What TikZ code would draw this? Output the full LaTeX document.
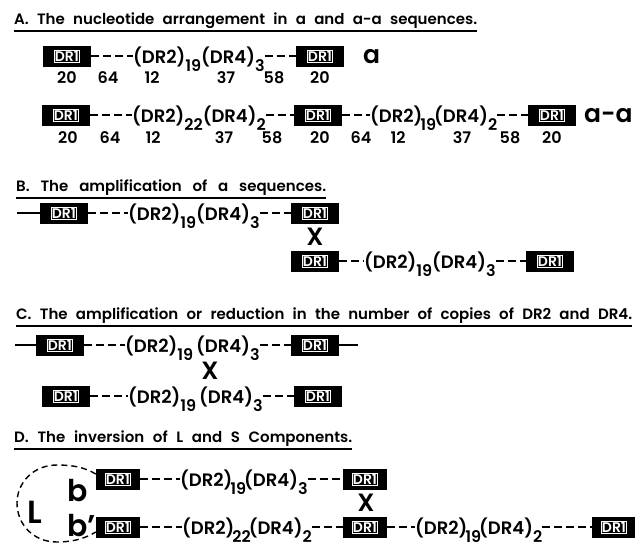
\documentclass[tikz,border=0pt]{standalone}
\usepackage{fontspec}
\setmainfont{Poppins}[UprightFont=* SemiBold]
\usepackage{tikz}
\usetikzlibrary{positioning}

\newcommand{\sbt}[1]{\raisebox{-8pt}{\fontsize{16}{16}\selectfont #1}}
\newcommand{\drone}{{\setlength{\fboxsep}{0.4pt}\setlength{\fboxrule}{0.7pt}\fbox{DR1}}}

\begin{document}
\begin{tikzpicture}[x=1pt, y=-1pt,
    drbox/.style={fill=black, text=white, minimum width=48pt, minimum height=21pt, inner sep=0pt, font=\fontsize{14}{14}\selectfont},
    seq/.style={anchor=base west, inner sep=0pt, font=\fontsize{18}{18}\selectfont},
    num/.style={anchor=base, inner sep=0pt, font=\fontsize{16}{16}\selectfont},
    heading/.style={anchor=base west, inner sep=0pt, font=\fontsize{15}{15}\selectfont},
    uline/.style={line width=1.8pt},
    dna/.style={line width=1.8pt, dash pattern=on 8pt off 4pt},
    tail/.style={line width=1.8pt},
    cross/.style={inner sep=0pt, font=\fontsize{25}{25}\selectfont},
    big/.style={anchor=base west, inner sep=0pt, font=\fontsize{25}{25}\selectfont},
    letter/.style={anchor=base west, inner sep=0pt, font=\fontsize{30}{30}\selectfont}]
  \fill[white] (0,0) rectangle (635,552);
  \useasboundingbox (0,0) rectangle (635,552);

  % A. arrangement
  \node[heading] (tA) at (14,24) {\makebox[463pt][s]{A. The nucleotide arrangement in a and a-a sequences.}};
  \draw[uline] ([yshift=-7pt]tA.base west) -- ([yshift=-7pt]tA.base east);

  \node[drbox] (a1l) at (67,56) {\drone};
  \node[seq] (a1s) at (133,63) {(DR2)\sbt{19}(DR4)\sbt{3}};
  \node[drbox] (a1r) at (320,56) {\drone};
  \node[big] (a1a) at (363,63) {a};
  \draw[dna] (a1l.east) -- (a1l.east -| a1s.west);
  \draw[dna] (a1s.east |- a1r.west) -- (a1r.west);
  \foreach \x/\n [count=\i] in {67/20, 108/64, 152/12, 226/37, 274/58, 320/20}
    \node[num] (a1n\i) at (\x,83) {\n};

  \node[drbox] (a2l) at (66,115) {\drone};
  \node[seq] (a2s) at (132,122) {(DR2)\sbt{22}(DR4)\sbt{2}};
  \node[drbox] (a2m) at (318,115) {\drone};
  \node[seq] (a2t) at (370,122) {(DR2)\kern-2pt\sbt{19}\kern-2pt(DR4)\sbt{2}};
  \node[drbox] (a2r) at (552,115) {\drone};
  \node[big] (a2a) at (584,122) {a-a};
  \draw[dna] (a2l.east) -- (a2l.east -| a2s.west);
  \draw[dna] (a2s.east |- a2m.west) -- (a2m.west);
  \draw[dna] (a2m.east) -- (a2m.east -| a2t.west);
  \draw[dna] (a2t.east |- a2r.west) -- (a2r.west);
  \foreach \x/\n [count=\i] in {68/20, 110/64, 153/12, 224/37, 272/58, 320/20, 361/64, 398/12, 462/37, 510/58, 552/20}
    \node[num] (a2n\i) at (\x,143) {\n};

  % B. amplification
  \node[heading] (tB) at (16,191) {\makebox[310pt][s]{B. The amplification of a sequences.}};
  \draw[uline] ([yshift=-7pt]tB.base west) -- ([yshift=-7pt]tB.base east);

  \coordinate (b1o) at (17,213);
  \node[drbox] (b1l) at (64,213) {\drone};
  \node[seq] (b1s) at (128,220) {(DR2)\sbt{19}(DR4)\sbt{3}};
  \node[drbox] (b1r) at (315,213) {\drone};
  \draw[tail] (b1o) -- (b1l.west);
  \draw[dna] (b1l.east) -- (b1l.east -| b1s.west);
  \draw[dna] (b1s.east |- b1r.west) -- (b1r.west);
  \node[cross] (bX) at (315,237) {X};
  \node[drbox] (b2l) at (315,261) {\drone};
  \node[seq] (b2s) at (364,268) {(DR2)\sbt{19}(DR4)\sbt{3}};
  \node[drbox] (b2r) at (550,261) {\drone};
  \draw[dna] (b2l.east) -- (b2l.east -| b2s.west);
  \draw[dna] (b2s.east |- b2r.west) -- (b2r.west);

  % C. copies of DR2 and DR4
  \node[heading] (tC) at (16,319) {\makebox[616pt][s]{C. The amplification or reduction in the number of copies of DR2 and DR4.}};
  \draw[uline] ([yshift=-7pt]tC.base west) -- ([yshift=-7pt]tC.base east);

  \coordinate (c1o) at (15,345);
  \coordinate (c1e) at (358,345);
  \node[drbox] (c1l) at (60,345) {\drone};
  \node[seq] (c1s) at (125,352) {(DR2)\sbt{19}\,(DR4)\sbt{3}};
  \node[drbox] (c1r) at (315,345) {\drone};
  \draw[tail] (c1o) -- (c1l.west);
  \draw[tail] (c1r.east) -- (c1e);
  \draw[dna] (c1l.east) -- (c1l.east -| c1s.west);
  \draw[dna] (c1s.east |- c1r.west) -- (c1r.west);
  \node[cross] (cX) at (210,371) {X};
  \node[drbox] (c2l) at (66,396) {\drone};
  \node[seq] (c2s) at (128,403) {(DR2)\sbt{19}\,(DR4)\sbt{3}};
  \node[drbox] (c2r) at (318,396) {\drone};
  \draw[dna] (c2l.east) -- (c2l.east -| c2s.west);
  \draw[dna] (c2s.east |- c2r.west) -- (c2r.west);

  % D. inversion
  \node[heading] (tD) at (14,442) {\makebox[338pt][s]{D. The inversion of L and S Components.}};
  \draw[uline] ([yshift=-7pt]tD.base west) -- ([yshift=-7pt]tD.base east);

  \node[drbox, minimum width=44pt] (d1l) at (118,479) {\drone};
  \node[seq] (d1s) at (180,486) {(DR2)\kern-2pt\sbt{19}\kern-2pt(DR4)\sbt{3}};
  \node[drbox, minimum width=44pt] (d1r) at (365,479) {\drone};
  \draw[dna] (d1l.east) -- (d1l.east -| d1s.west);
  \draw[dna] (d1s.east |- d1r.west) -- (d1r.west);
  \node[cross] (dX) at (366,503) {X};
  \node[drbox, minimum width=44pt] (d2l) at (118,527) {\drone};
  \node[seq] (d2s) at (182,534) {(DR2)\kern-2pt\sbt{22}\kern-2pt(DR4)\sbt{2}};
  \node[drbox, minimum width=44pt] (d2m) at (365,527) {\drone};
  \node[seq] (d2t) at (415,534) {(DR2)\kern-2pt\sbt{19}\kern-2pt(DR4)\sbt{2}};
  \node[drbox, minimum width=44pt] (d2r) at (614,527) {\drone};
  \draw[dna] (d2l.east) -- (d2l.east -| d2s.west);
  \draw[dna] (d2s.east |- d2m.west) -- (d2m.west);
  \draw[dna] (d2m.east) -- (d2m.east -| d2t.west);
  \draw[dna] (d2t.east |- d2r.west) -- (d2r.west);

  % L component loop
  \draw[line width=1.4pt, dash pattern=on 6pt off 4pt] ([yshift=5pt]d1l.west) .. controls (84,467) and (72,465) .. (57,465)
    .. controls (33,465) and (17,483) .. (17,503) .. controls (17,524) and (33,542) .. (57,542)
    .. controls (72,542) and (84,539) .. ([yshift=-5pt]d2l.west);
  \node[letter, font=\fontsize{32}{32}\selectfont] (lL) at (27,523) {L};
  \node[letter] (lb) at (67,501) {b};
  \node[letter] (lbp) at (67,536) {b'};
\end{tikzpicture}
\end{document}
